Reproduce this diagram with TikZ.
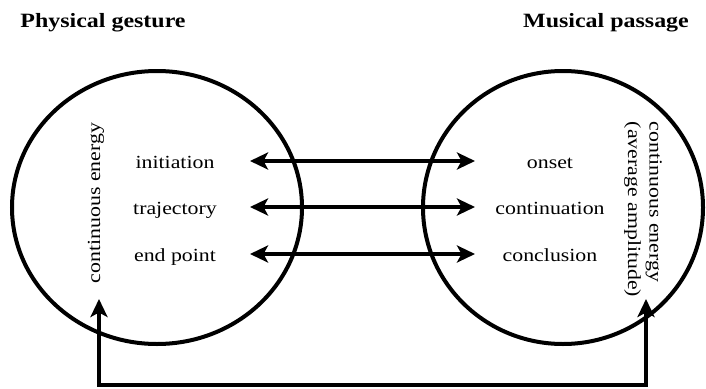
\documentclass[tikz,border=0pt]{standalone}
\usepackage{fontspec}
\setmainfont{Liberation Serif}[FakeStretch=1.18]
\usetikzlibrary{arrows.meta}
\begin{document}
\begin{tikzpicture}[x=1pt,y=-1pt,
  lbl/.style={anchor=base,inner sep=0pt,font=\fontsize{18.5}{21.5}\selectfont},
  head/.style={anchor=base,inner sep=0pt,font=\fontsize{20.3}{24}\selectfont\bfseries},
  vlbl/.style={inner sep=0pt,font=\fontsize{18.5}{21.5}\selectfont,align=left},
  circ/.style={line width=4pt},
  link/.style={line width=3.4pt,{Stealth[length=18pt,width=17pt,inset=4.5pt]}-{Stealth[length=18pt,width=17pt,inset=4.5pt]}}
]
\useasboundingbox (0,0) rectangle (706,388);
% headings
\node[head] (hl) at (103,27.5) {Physical gesture};
\node[head] (hr) at (606,27.5) {Musical passage};
% ellipses
\draw[circ] (157,207.5) ellipse [x radius=145pt, y radius=136.5pt];
\draw[circ] (563,207.5) ellipse [x radius=140pt, y radius=136.5pt];
% labels
\node[lbl] (ini) at (175,168) {initiation};
\node[lbl] (tra) at (175,214) {trajectory};
\node[lbl] (end) at (175,261) {end point};
\node[lbl] (ons) at (550,168) {onset};
\node[lbl] (con) at (550,214) {continuation};
\node[lbl] (ccl) at (550,261) {conclusion};
\node[vlbl,rotate=90] (ce) at (96,203) {continuous energy};
\node[vlbl,rotate=-90] (cea) at (643,209.5) {continuous energy\\(average amplitude)};
% arrow end coordinates
\coordinate (a1l) at (250,161);
\coordinate (a1r) at (475,161);
\coordinate (a2l) at (250,207);
\coordinate (a2r) at (475,207);
\coordinate (a3l) at (250,254);
\coordinate (a3r) at (475,254);
\coordinate (bl) at (99,299);
\coordinate (br) at (646,299);
\coordinate (bbl) at (99,385);
\coordinate (bbr) at (646,385);
\draw[link] (a1l) -- (a1r);
\draw[link] (a2l) -- (a2r);
\draw[link] (a3l) -- (a3r);
\draw[link] (bl) -- (bbl) -- (bbr) -- (br);
\end{tikzpicture}
\end{document}
